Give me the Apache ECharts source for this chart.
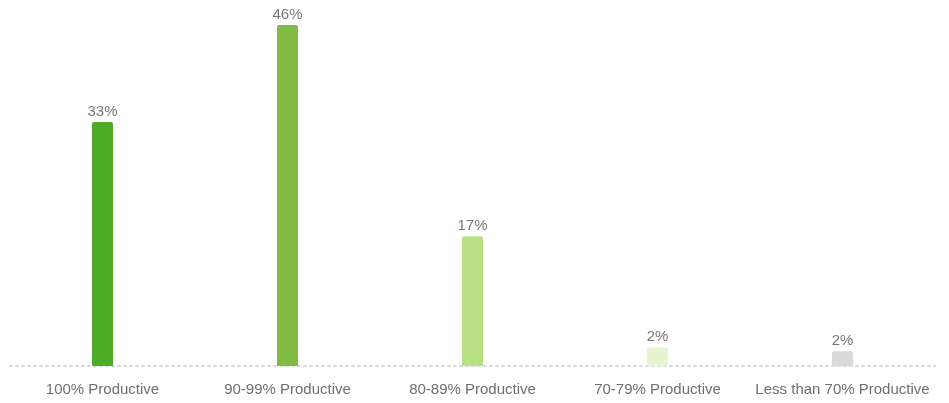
<!DOCTYPE html>
<html>
<head>
<meta charset="utf-8">
<script src="https://cdn.jsdelivr.net/npm/echarts@6/dist/echarts.min.js"></script>
<style>html,body{margin:0;padding:0;background:#fff}#c{width:949px;height:403px}</style>
</head>
<body>
<div id="c"></div>
<script>
const categories = ['100% Productive', '90-99% Productive', '80-89% Productive', '70-79% Productive', 'Less than 70% Productive'];
const values = [32.9, 46.0, 17.5, 2.5, 2.0];
const labels = ['33%', '46%', '17%', '2%', '2%'];
const colors = ['#4dac26', '#82bb44', '#b8e186', '#e6f5d0', '#d9d9d9'];

const chart = echarts.init(document.getElementById('c'));
chart.setOption({
  animation: false,
  grid: { left: 10, right: 14, top: 25, bottom: 37, containLabel: false },
  xAxis: {
    type: 'category',
    data: categories,
    axisTick: { show: false },
    axisLine: { lineStyle: { color: '#dadada', type: [2, 4], width: 2 } },
    axisLabel: { color: '#6f6f6f', fontSize: 15, fontFamily: 'Liberation Sans, Arial, sans-serif', margin: 16, interval: 0 }
  },
  yAxis: { type: 'value', min: 0, max: 46, show: false, splitLine: { show: false } },
  series: [{
    type: 'bar',
    barWidth: 21,
    data: values.map((v, i) => ({ value: v, itemStyle: { color: colors[i] } })),
    itemStyle: { borderRadius: [2, 2, 0, 0] },
    label: {
      show: true, position: 'top', distance: 3,
      color: '#777', fontSize: 15, fontFamily: 'Liberation Sans, Arial, sans-serif',
      formatter: p => labels[p.dataIndex]
    }
  }]
});
</script>
</body>
</html>
